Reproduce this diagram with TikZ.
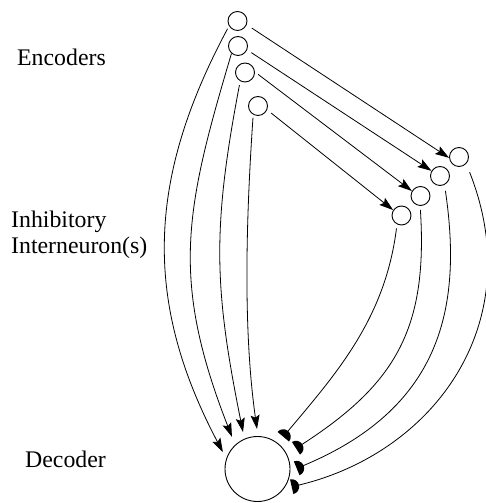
\documentclass[tikz,border=0pt]{standalone}
\usepackage{fontspec}
\setmainfont{Liberation Serif}
\usetikzlibrary{arrows.meta}
\pgfdeclarearrow{
  name = HalfDisc,
  parameters = {\the\pgfarrowlength},
  setup code = {
    \pgfarrowssettipend{0pt}
    \pgfarrowssetlineend{-0.5\pgfarrowlength}
    \pgfarrowsupperhullpoint{0pt}{\pgfarrowlength}
    \pgfarrowsupperhullpoint{-\pgfarrowlength}{0pt}
    \pgfarrowssavethe\pgfarrowlength
  },
  drawing code = {
    \pgfpathmoveto{\pgfqpoint{0pt}{\pgfarrowlength}}
    \pgfpatharc{90}{270}{\pgfarrowlength}
    \pgfpathclose
    \pgfusepathqfill
  },
  defaults = {length = 6pt}
}
\begin{document}
\begin{tikzpicture}[x=1pt,y=1pt,
  neuron/.style={circle,draw,line width=0.9pt,minimum size=19pt,inner sep=0pt},
  decoder/.style={circle,draw,line width=0.9pt,minimum size=65pt,inner sep=0pt},
  txt/.style={anchor=base west,inner sep=0pt,font=\fontsize{23.8}{26}\selectfont},
  exc/.style={line width=0.8pt,-{Stealth[length=14pt,width=9pt,inset=2.5pt]}},
  inh/.style={line width=0.8pt,-{HalfDisc[length=7.5pt]}}
]
\useasboundingbox (0,0) rectangle (485,503);

% labels
\node[txt] (lenc) at (17,437) {Encoders};
\node[txt] (linh1) at (11,275) {Inhibitory};
\node[txt] (linh2) at (11,249) {Interneuron(s)};
\node[txt] (ldec) at (25,35) {Decoder};

% encoders
\node[neuron] (E1) at (237.5,482) {};
\node[neuron] (E2) at (238,457) {};
\node[neuron] (E3) at (245,430.5) {};
\node[neuron] (E4) at (258,397) {};

% interneurons
\node[neuron] (I1) at (459,346) {};
\node[neuron] (I2) at (440,327) {};
\node[neuron] (I3) at (420.5,307) {};
\node[neuron] (I4) at (401.5,287.5) {};

% decoder
\node[decoder] (D) at (257.5,34) {};

% end points around the decoder
\coordinate (a1) at ([shift={(154:38.5)}]D.center);
\coordinate (a2) at ([shift={(128.5:41)}]D.center);
\coordinate (a3) at ([shift={(111.4:39.7)}]D.center);
\coordinate (a4) at ([shift={(90.7:40)}]D.center);
\coordinate (t1) at ([shift={(51.4:41.3)}]D.center);
\coordinate (t2) at ([shift={(28.3:43.7)}]D.center);
\coordinate (t3) at ([shift={(1:39.2)}]D.center);
\coordinate (t4) at ([shift={(-27.4:38.5)}]D.center);

% encoders -> interneurons
\draw[exc,shorten <=6pt] (E1.-22) -- (I1.185);
\draw[exc,shorten <=5pt] (E2.-23) -- (I2.149);
\draw[exc,shorten <=4pt] (E3.3) -- (I3.150);
\draw[exc,shorten <=5pt] (E4.-23) -- (I4.147);

% encoders -> decoder
\draw[exc,shorten <=3pt] (E1.211) .. controls (147,324) and (143,202) .. (a1);
\draw[exc] (E2.229) .. controls (184.6,292) and (170.4,224) .. (a2);
\draw[exc,shorten <=4pt] (E3.241) .. controls (212,274) and (214,215) .. (a3);
\draw[exc,shorten <=3pt] (E4.241) .. controls (246,283) and (243,173) .. (a4);

% interneurons -> decoder (inhibitory)
\draw[inh,shorten <=9pt] (I1.-43) .. controls (530,178) and (432,48) .. (t4);
\draw[inh,shorten <=6pt] (I2.-63) .. controls (463,193) and (440,93) .. (t3);
\draw[inh,shorten <=4pt] (I3.-92) .. controls (428,173) and (395,118) .. (t2);
\draw[inh,shorten <=4pt] (I4.-117) .. controls (385,183) and (335,128) .. (t1);
\end{tikzpicture}
\end{document}
